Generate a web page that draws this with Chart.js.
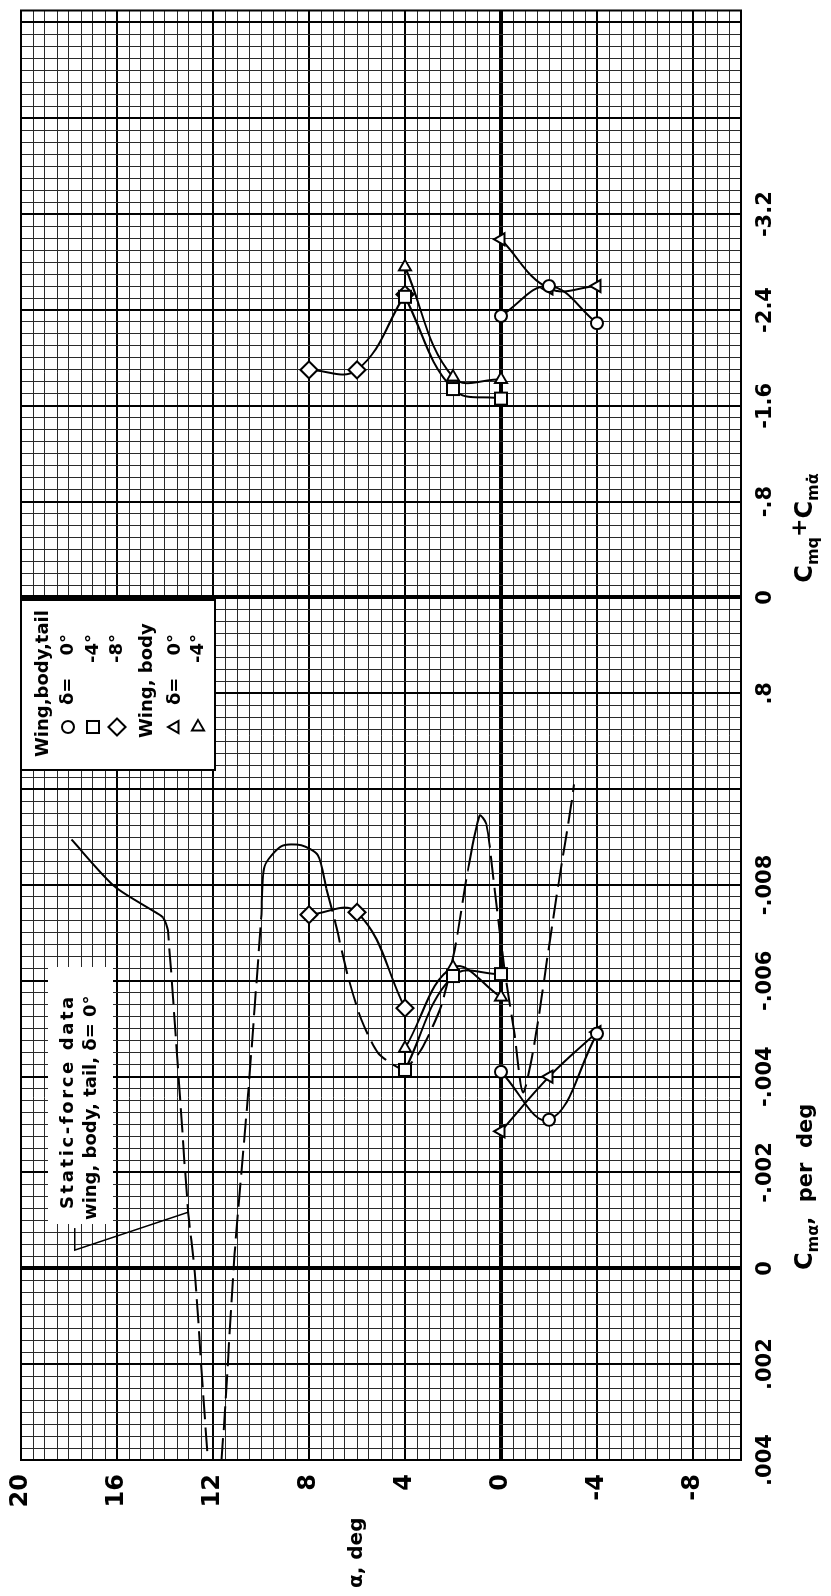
<!DOCTYPE html>
<html>
<head>
<meta charset="utf-8">
<script src="https://cdn.jsdelivr.net/npm/chart.js@4.4.1/dist/chart.umd.min.js"></script>
<style>
  html, body { margin: 0; padding: 0; background: #fff; overflow: hidden; }
  #page { position: relative; width: 831px; height: 1596px; }
  /* chart is drawn landscape, then turned like the scanned sheet */
  #turn { position: absolute; left: 0; top: 1596px; width: 1596px; height: 831px;
          transform-origin: 0 0; transform: rotate(-90deg); }
  canvas { display: block; }
</style>
</head>
<body>
<div id="page"><div id="turn"><canvas id="chart" width="1596" height="831"></canvas></div></div>
<script>
// angle of attack, deg, for each configuration
const alphaWbt0 = [0, -2, -4];
const alphaWbt4 = [4, 2, 0];
const alphaWbt8 = [8, 6, 4];
const alphaWb0  = [0, -2, -4];
const alphaWb4  = [4, 2, 0];

// Cm_alpha, per deg
const cmaWbt0 = [-0.0041, -0.0031, -0.0049];
const cmaWbt4 = [-0.00414, -0.0061, -0.00614];
const cmaWbt8 = [-0.00738, -0.00743, -0.00543];
const cmaWb0  = [-0.00286, -0.0040, -0.00493];
const cmaWb4  = [-0.00459, -0.00628, -0.00566];

// Cmq + Cm_alpha_dot
const cmqWbt0 = [-2.35, -2.60, -2.29];
const cmqWbt4 = [-2.51, -1.74, -1.66];
const cmqWbt8 = [-1.90, -1.90, -2.53];
const cmqWb0  = [-2.99, -2.58, -2.60];
const cmqWb4  = [-2.76, -1.84, -1.82];

// static-force data, wing-body-tail, delta = 0
const staticAlpha = [17.9, 16.1, 14.36, 14.08, 13.88, 13.04, 12.76, 12.21, 11.96, 11.65, 11.1, 10.54,
  9.99, 9.85, 9.15, 8.32, 7.63, 7.28, 6.93, 6.38, 5.82, 5.13, 4.43, 4.01, 3.32, 2.49, 1.93, 1.38,
  0.89, 0.61, 0.26, -0.15, -0.57, -0.92, -1.4, -1.96, -2.38, -2.93, -3.04];
const staticCma = [-0.00895, -0.00797, -0.00742, -0.00732, -0.00705, -0.00121, 0.00008, 0.00402, 0.0050, 0.00402, -0.00029, -0.00362,
  -0.00733, -0.00839, -0.00881, -0.00883, -0.00862, -0.00793, -0.00727, -0.0061, -0.00519, -0.0045, -0.00423, -0.00416, -0.00457, -0.00548, -0.00665, -0.0083,
  -0.00945, -0.00927, -0.00789, -0.00623, -0.00486, -0.00367, -0.00471, -0.00658, -0.00797, -0.00969, -0.0101];

// leader from the static-force note to its curve
const leaderAlpha = [17.76, 17.76, 13.04];
const leaderCma = [-0.00084, -0.00038, -0.00117];

// tick labels
const alphaTicks = [20, 16, 12, 8, 4, 0, -4, -8];
const cmaTicks = [0.004, 0.002, 0, -0.002, -0.004, -0.006, -0.008];
const cmaTickLabels = ['.004', '.002', '0', '-.002', '-.004', '-.006', '-.008'];
const cmqTicks = [0.8, 0, -0.8, -1.6, -2.4, -3.2];
const cmqTickLabels = ['.8', '0', '-.8', '-1.6', '-2.4', '-3.2'];

// both scales share one axis: Cmq = 0 sits at Cma = -.014, .8 of Cmq per .002 of Cma
const ALPHA_MIN = -10, ALPHA_MAX = 20;
const CMA_MIN = -0.02625, CMA_MAX = 0.004, CMA_STEP = 0.00025;
const CMQ_ZERO = -0.014, CMQ_PER_CMA = 400;

const FAMILY = '"DejaVu Sans", sans-serif';
const TICK_FONT = { family: FAMILY, size: 21, weight: 'bold' };
const TICK_PAD = 12;

function series(alpha, values, axis, style, radius, rotation) {
  return {
    data: alpha.map((a, i) => ({ x: values[i], y: a })),
    xAxisID: axis, yAxisID: 'y', order: 0,
    showLine: true, tension: 0.4,
    borderColor: '#000', borderWidth: 2,
    pointStyle: style, pointRadius: radius, pointRotation: rotation || 0,
    pointBackgroundColor: '#fff', pointBorderColor: '#000', pointBorderWidth: 2
  };
}

// solid stretches of the static curve, dashed elsewhere
const solidBands = [[14, 18], [7.2, 10.1], [0.5, 1.4]];
function isSolid(a0, a1) {
  return solidBands.some(([lo, hi]) => a0 >= lo && a0 <= hi && a1 >= lo && a1 <= hi);
}

function alphaGridWidth(ctx) {
  if (!ctx.tick) return 1;
  const v = ctx.tick.value;
  if (Math.abs(v) < 1e-9) return 4;
  if (Math.abs(v % 4) < 1e-9) return 2;
  return 1;
}

function cmaGridWidth(ctx) {
  if (!ctx.tick) return 1;
  const v = ctx.tick.value;
  if (Math.abs(v) < 1e-9 || Math.abs(v - CMQ_ZERO) < 1e-9) return 4;
  if (Math.round(v / CMA_STEP) % 8 === 0) return 2;
  return 1;
}

function alphaGridColor(ctx) {
  return ctx.tick && Math.abs(ctx.tick.value % 4) < 1e-9 ? '#000' : '#2a2a2a';
}

function cmaGridColor(ctx) {
  return ctx.tick && Math.round(ctx.tick.value / CMA_STEP) % 8 === 0 ? '#000' : '#2a2a2a';
}

function noPad(s) {
  s.paddingLeft = 0; s.paddingRight = 0; s.paddingTop = 0; s.paddingBottom = 0;
}

function drawMarker(ctx, style, x, y, radius, rotation) {
  ctx.save();
  ctx.fillStyle = '#fff';
  ctx.strokeStyle = '#000';
  ctx.lineWidth = 2;
  Chart.helpers.drawPoint(ctx, { pointStyle: style, rotation: rotation || 0, radius, borderWidth: 2 }, x, y);
  ctx.restore();
}

function drawRich(ctx, parts, cx, baseY) {
  let total = 0;
  parts.forEach(p => { ctx.font = 'bold ' + p.size + 'px ' + FAMILY; p.w = ctx.measureText(p.t).width; total += p.w; });
  let x = cx - total / 2;
  ctx.textAlign = 'left';
  ctx.textBaseline = 'alphabetic';
  parts.forEach(p => {
    ctx.font = 'bold ' + p.size + 'px ' + FAMILY;
    ctx.fillText(p.t, x, baseY + (p.dy || 0));
    x += p.w;
  });
}

const legendRows = [
  { y: 68,  style: 'circle',   r: 6,   rot: 0,  delta: true, txt: '0°' },
  { y: 93,  style: 'rect',     r: 8.5, rot: 0,  delta: false, txt: '-4°' },
  { y: 117, style: 'rectRot',  r: 8.5, rot: 0,  delta: false, txt: '-8°' },
  { y: 175, style: 'triangle', r: 7,   rot: 0,  delta: true, txt: '0°' },
  { y: 198, style: 'triangle', r: 7,   rot: 90, delta: false, txt: '-4°' }
];

const overlay = {
  id: 'overlay',
  beforeDatasetsDraw(chart) {
    const ctx = chart.ctx;
    ctx.save();
    // key box
    ctx.fillStyle = '#fff';
    ctx.fillRect(826, 21, 170, 194);
    ctx.strokeStyle = '#000';
    ctx.lineWidth = 2;
    ctx.strokeRect(826, 21, 170, 194);
    ctx.fillStyle = '#000';
    ctx.font = 'bold 18px ' + FAMILY;
    ctx.textBaseline = 'middle';
    ctx.textAlign = 'left';
    ctx.fillText('Wing,body,tail', 839, 43);
    ctx.fillText('Wing, body', 858, 147);
    legendRows.forEach(r => {
      drawMarker(ctx, r.style, 869, r.y, r.r, r.rot);
      ctx.fillStyle = '#000';
      ctx.font = 'bold 18px ' + FAMILY;
      ctx.textAlign = 'left';
      if (r.delta) ctx.fillText('δ=', 891, r.y);
      ctx.textAlign = 'right';
      ctx.fillText(r.txt, 962, r.y);
    });

    // static-force note
    ctx.fillStyle = '#fff';
    ctx.fillRect(372, 48, 257, 65);
    ctx.fillStyle = '#000';
    ctx.textAlign = 'left';
    ctx.font = 'bold 18px ' + FAMILY;
    if ('letterSpacing' in ctx) ctx.letterSpacing = '2.6px';
    ctx.fillText('Static-force data', 387, 68);
    if ('letterSpacing' in ctx) ctx.letterSpacing = '0px';
    ctx.fillText('wing, body, tail, δ= 0°', 376, 91);
    ctx.restore();
  },
  afterDraw(chart) {
    const ctx = chart.ctx;
    const a = chart.chartArea;
    const xa = chart.scales.xa, xq = chart.scales.xq, y = chart.scales.y;
    ctx.save();
    ctx.strokeStyle = '#000';
    ctx.lineWidth = 2;
    ctx.strokeRect(a.left, a.top, a.right - a.left, a.bottom - a.top);

    // Cmq + Cm_alpha_dot labels on the shared axis
    ctx.fillStyle = '#000';
    ctx.font = 'bold ' + TICK_FONT.size + 'px ' + FAMILY;
    ctx.textAlign = 'center';
    ctx.textBaseline = 'middle';
    const ly = a.bottom + TICK_PAD + TICK_FONT.size * 1.2 / 2;
    cmqTicks.forEach((v, i) => ctx.fillText(cmqTickLabels[i], xq.getPixelForValue(v), ly));

    // axis titles
    ctx.font = 'bold 20px ' + FAMILY;
    ctx.textAlign = 'left';
    ctx.fillText('α, deg', 8, y.getPixelForValue(6));

    drawRich(ctx, [
      { t: 'C', size: 24 },
      { t: 'mα', size: 16, dy: 6 },
      { t: ',  per  deg', size: 21 }
    ], xa.getPixelForValue(-0.0017), 812);

    drawRich(ctx, [
      { t: 'C', size: 24 },
      { t: 'mq', size: 16, dy: 6 },
      { t: '+', size: 22, dy: -6 },
      { t: 'C', size: 24 },
      { t: 'mα̇', size: 16, dy: 6 }
    ], xq.getPixelForValue(-0.58), 812);
    ctx.restore();
  }
};

const datasets = [
  {
    data: staticAlpha.map((al, i) => ({ x: staticCma[i], y: al })),
    xAxisID: 'xa', yAxisID: 'y', order: 5,
    showLine: true, tension: 0.25, clip: 0,
    borderColor: '#000', borderWidth: 2, pointRadius: 0,
    segment: { borderDash: c => isSolid(c.p0.parsed.y, c.p1.parsed.y) ? [] : [24, 8] }
  },
  {
    data: leaderAlpha.map((al, i) => ({ x: leaderCma[i], y: al })),
    xAxisID: 'xa', yAxisID: 'y', order: 5,
    showLine: true, tension: 0, borderColor: '#000', borderWidth: 1.5, pointRadius: 0
  },
  series(alphaWbt0, cmaWbt0, 'xa', 'circle', 6),
  series(alphaWbt4, cmaWbt4, 'xa', 'rect', 8.5),
  series(alphaWbt8, cmaWbt8, 'xa', 'rectRot', 8.5),
  series(alphaWb0, cmaWb0, 'xa', 'triangle', 7),
  series(alphaWb4, cmaWb4, 'xa', 'triangle', 7, 90),
  series(alphaWbt0, cmqWbt0, 'xq', 'circle', 6),
  series(alphaWbt4, cmqWbt4, 'xq', 'rect', 8.5),
  series(alphaWbt8, cmqWbt8, 'xq', 'rectRot', 8.5),
  series(alphaWb0, cmqWb0, 'xq', 'triangle', 7),
  series(alphaWb4, cmqWb4, 'xq', 'triangle', 7, 90)
];

new Chart(document.getElementById('chart').getContext('2d'), {
  type: 'scatter',
  data: { datasets },
  options: {
    responsive: false,
    animation: false,
    devicePixelRatio: 1,
    layout: { padding: { top: 21, right: 2, left: 0, bottom: 0 } },
    plugins: { legend: { display: false }, tooltip: { enabled: false } },
    scales: {
      y: {
        type: 'linear', position: 'left', min: ALPHA_MIN, max: ALPHA_MAX,
        afterFit: s => { s.width = 136; noPad(s); },
        ticks: {
          stepSize: 0.5, autoSkip: false, padding: 14, color: '#000',
          font: { family: FAMILY, size: 24, weight: 'bold' },
          callback: v => alphaTicks.includes(v) ? String(v) : ''
        },
        grid: { color: alphaGridColor, lineWidth: alphaGridWidth, drawTicks: false },
        border: { display: false }
      },
      xa: {
        type: 'linear', axis: 'x', position: 'bottom', reverse: true, min: CMA_MIN, max: CMA_MAX,
        afterFit: s => { s.height = 90; noPad(s); },
        ticks: {
          stepSize: CMA_STEP, autoSkip: false, maxRotation: 0, minRotation: 0,
          padding: TICK_PAD, color: '#000', font: TICK_FONT,
          callback: v => {
            const i = cmaTicks.findIndex(t => Math.abs(t - v) < 1e-7);
            return i >= 0 ? cmaTickLabels[i] : '';
          }
        },
        grid: { color: cmaGridColor, lineWidth: cmaGridWidth, drawTicks: false },
        border: { display: false }
      },
      xq: {
        type: 'linear', axis: 'x', display: false, reverse: true,
        min: (CMA_MIN - CMQ_ZERO) * CMQ_PER_CMA,
        max: (CMA_MAX - CMQ_ZERO) * CMQ_PER_CMA
      }
    }
  },
  plugins: [overlay]
});
</script>
</body>
</html>
